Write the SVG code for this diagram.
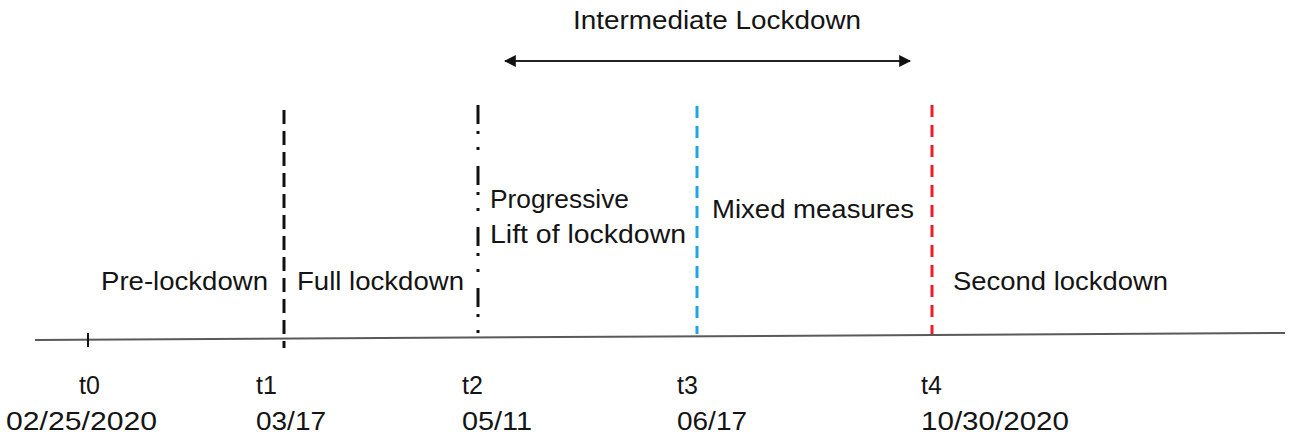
<svg xmlns="http://www.w3.org/2000/svg" width="1291" height="438" viewBox="0 0 1291 438">
  <style>
    .lbl { font-family: "Liberation Sans", Arial, sans-serif; font-size: 25px; fill: #141414; }
    .axis { stroke: #5a5a5a; stroke-width: 2; fill: none; }
    .mark { stroke-width: 3; fill: none; }
  </style>
  <defs>
    <marker id="head" viewBox="0 0 10 10" refX="9" refY="5" markerWidth="6" markerHeight="6" orient="auto-start-reverse" markerUnits="strokeWidth">
      <path d="M0,0 L10,5 L0,10 Z" fill="#111"/>
    </marker>
  </defs>

  <rect width="1291" height="438" fill="#fff"/>

  <!-- connectors: time axis, phase boundaries and the span arrow -->
  <g id="connectors">
    <line class="axis" x1="35" y1="340" x2="1285" y2="333"/>
    <line x1="88" y1="333" x2="88" y2="347" stroke="#111" stroke-width="2"/>
    <line class="mark" x1="284" y1="110" x2="284" y2="348" stroke="#111" stroke-dasharray="14 7"/>
    <line class="mark" x1="478" y1="105" x2="478" y2="341" stroke="#111" stroke-dasharray="19 7 3 13 3 16"/>
    <line class="mark" x1="697" y1="106" x2="697" y2="334" stroke="#1ea7e1" stroke-dasharray="12 8"/>
    <line class="mark" x1="932" y1="105" x2="932" y2="334" stroke="#ee1c25" stroke-dasharray="12 8"/>
    <line x1="505" y1="61" x2="910" y2="61" stroke="#222" stroke-width="2" marker-start="url(#head)" marker-end="url(#head)"/>
  </g>

  <g id="intermediate">
    <text class="lbl" x="573" y="29" textLength="288" lengthAdjust="spacingAndGlyphs">Intermediate Lockdown</text>
  </g>
  <g id="pre-lockdown">
    <text class="lbl" x="101" y="290" textLength="167" lengthAdjust="spacingAndGlyphs">Pre-lockdown</text>
  </g>
  <g id="full-lockdown">
    <text class="lbl" x="297" y="290" textLength="167" lengthAdjust="spacingAndGlyphs">Full lockdown</text>
  </g>
  <g id="progressive-lift">
    <text class="lbl" x="490" y="208" textLength="139" lengthAdjust="spacingAndGlyphs">Progressive</text>
    <text class="lbl" x="490" y="243" textLength="196" lengthAdjust="spacingAndGlyphs">Lift of lockdown</text>
  </g>
  <g id="mixed-measures">
    <text class="lbl" x="712" y="218" textLength="202" lengthAdjust="spacingAndGlyphs">Mixed measures</text>
  </g>
  <g id="second-lockdown">
    <text class="lbl" x="953" y="290" textLength="215" lengthAdjust="spacingAndGlyphs">Second lockdown</text>
  </g>

  <g id="t0">
    <text class="lbl" x="79" y="394">t0</text>
    <text class="lbl" x="6" y="430" textLength="151" lengthAdjust="spacingAndGlyphs">02/25/2020</text>
  </g>
  <g id="t1">
    <text class="lbl" x="256" y="394">t1</text>
    <text class="lbl" x="256" y="430" textLength="70" lengthAdjust="spacingAndGlyphs">03/17</text>
  </g>
  <g id="t2">
    <text class="lbl" x="462" y="394">t2</text>
    <text class="lbl" x="462" y="430" textLength="70" lengthAdjust="spacingAndGlyphs">05/11</text>
  </g>
  <g id="t3">
    <text class="lbl" x="677" y="394">t3</text>
    <text class="lbl" x="677" y="430" textLength="70" lengthAdjust="spacingAndGlyphs">06/17</text>
  </g>
  <g id="t4">
    <text class="lbl" x="921" y="394">t4</text>
    <text class="lbl" x="921" y="430" textLength="148" lengthAdjust="spacingAndGlyphs">10/30/2020</text>
  </g>
</svg>
